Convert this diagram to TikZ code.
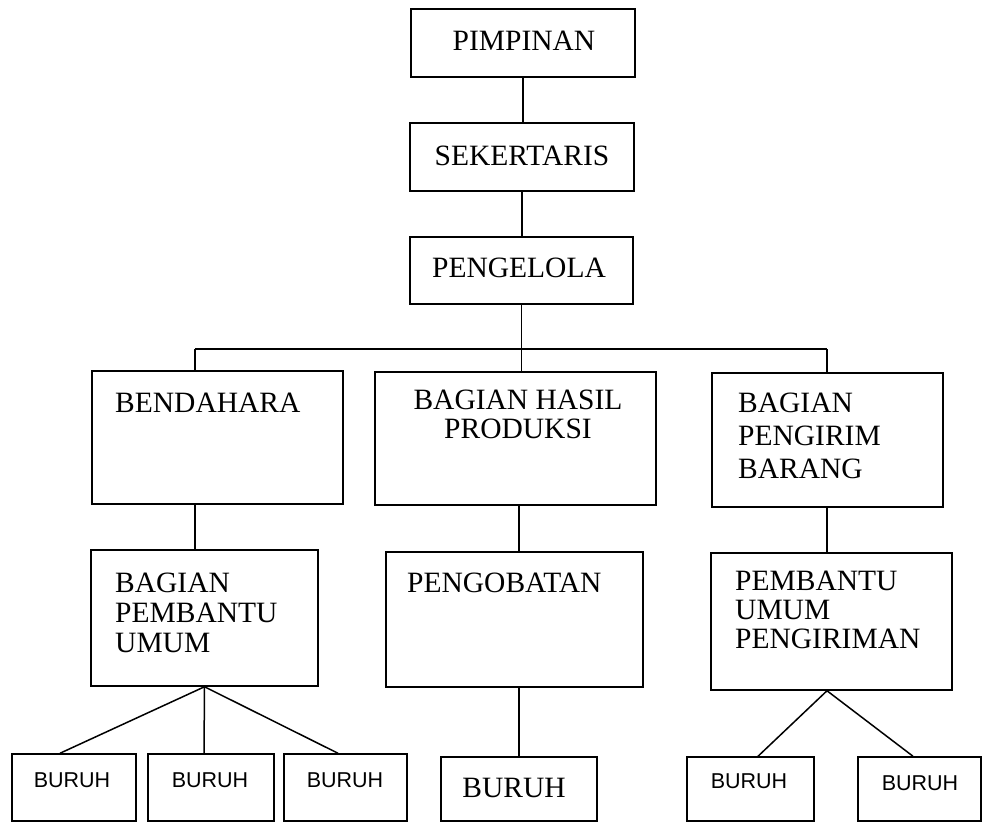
\documentclass[tikz,border=0pt]{standalone}
\usepackage{fontspec}
\setmainfont{Liberation Serif}
\newfontfamily\sansf{Liberation Sans}
\usetikzlibrary{calc}
\begin{document}
\begin{tikzpicture}[x=1pt,y=-1pt,
  box/.style={draw, line width=1.5pt, rectangle, inner sep=0pt},
  conn/.style={line width=1.5pt},
  lbl/.style={inner sep=0pt, font=\fontsize{29.5}{33}\selectfont},
  small/.style={inner sep=0pt, font=\sansf\fontsize{21.5}{24}\selectfont}]
\fill[white] (0,0) rectangle (982,823);
\useasboundingbox (0,0) rectangle (982,823);
% boxes
\node[box, minimum width=224pt, minimum height=68pt] (pim) at (523,43) {};
\node[box, minimum width=224pt, minimum height=68pt] (sek) at (522,157) {};
\node[box, minimum width=223pt, minimum height=67pt] (pen) at (521.5,270.5) {};
\node[box, minimum width=251pt, minimum height=133pt] (ben) at (217.5,437.5) {};
\node[box, minimum width=281pt, minimum height=133pt] (has) at (515.5,438.5) {};
\node[box, minimum width=231pt, minimum height=134pt] (kir) at (827.5,440) {};
\node[box, minimum width=227pt, minimum height=136pt] (bpu) at (204.5,618) {};
\node[box, minimum width=257pt, minimum height=135pt] (obt) at (514.5,619.5) {};
\node[box, minimum width=241pt, minimum height=137pt] (puk) at (831.5,621.5) {};
\node[box, minimum width=124pt, minimum height=67pt] (b1) at (74,787.5) {};
\node[box, minimum width=126pt, minimum height=67pt] (b2) at (211,787.5) {};
\node[box, minimum width=123pt, minimum height=67pt] (b3) at (345.5,787.5) {};
\node[box, minimum width=156pt, minimum height=64pt] (b4) at (519,789) {};
\node[box, minimum width=127pt, minimum height=64pt] (b5) at (750.5,789) {};
\node[box, minimum width=123pt, minimum height=64pt] (b6) at (919.5,789) {};
% texts
\node[lbl, anchor=base] (tpim) at (524,50) {PIMPINAN};
\node[lbl, anchor=base] (tsek) at (522,165) {SEKERTARIS};
\node[lbl, anchor=base] (tpen) at (519,277) {PENGELOLA};
\node[lbl, anchor=base west] (tben) at (115,412) {BENDAHARA};
\node[lbl, anchor=base] (thas1) at (518,409) {BAGIAN HASIL};
\node[lbl, anchor=base] (thas2) at (518,438) {PRODUKSI};
\node[lbl, anchor=base west] (tkir1) at (738,412) {BAGIAN};
\node[lbl, anchor=base west] (tkir2) at (738,445) {PENGIRIM};
\node[lbl, anchor=base west] (tkir3) at (738,478) {BARANG};
\node[lbl, anchor=base west] (tbpu1) at (115,592) {BAGIAN};
\node[lbl, anchor=base west] (tbpu2) at (115,622) {PEMBANTU};
\node[lbl, anchor=base west] (tbpu3) at (115,652) {UMUM};
\node[lbl, anchor=base west] (tobt) at (407,592) {PENGOBATAN};
\node[lbl, anchor=base west] (tpuk1) at (735,590) {PEMBANTU};
\node[lbl, anchor=base west] (tpuk2) at (735,619) {UMUM};
\node[lbl, anchor=base west] (tpuk3) at (735,648) {PENGIRIMAN};
\node[small, anchor=base] (tb1) at (72,787) {BURUH};
\node[small, anchor=base] (tb2) at (210,787) {BURUH};
\node[small, anchor=base] (tb3) at (345,787) {BURUH};
\node[lbl, anchor=base] (tb4) at (514,797) {BURUH};
\node[small, anchor=base] (tb5) at (749,788) {BURUH};
\node[small, anchor=base] (tb6) at (920,790) {BURUH};
% connectors
\coordinate (hL) at (195,349);
\coordinate (hR) at (827,349);
\coordinate (cM) at (519,0);
\draw[conn] (pim.south) -- (pim.south |- sek.north);
\draw[conn] (sek.south) -- (sek.south |- pen.north);
\draw[conn] (pen.south) -- (pen.south |- has.north);
\draw[conn] (hL) -- (hR);
\draw[conn] (hL) -- (hL |- ben.north);
\draw[conn] (hR) -- (hR |- kir.north);
\draw[conn] (hL |- ben.south) -- (hL |- bpu.north);
\draw[conn] (cM |- has.south) -- (cM |- obt.north);
\draw[conn] (hR |- kir.south) -- (hR |- puk.north);
\draw[conn] (cM |- obt.south) -- (b4.north);
\draw[conn] (bpu.south) -- ($(b1.north)+(-14,0)$);
\draw[conn] (bpu.south) -- ($(b2.north)+(-7,0)$);
\draw[conn] (bpu.south) -- ($(b3.north)+(-7.5,0)$);
\draw[conn] (hR |- puk.south) -- ($(b5.north)+(7.5,0)$);
\draw[conn] (hR |- puk.south) -- ($(b6.north)+(-6.5,0)$);
\end{tikzpicture}
\end{document}
